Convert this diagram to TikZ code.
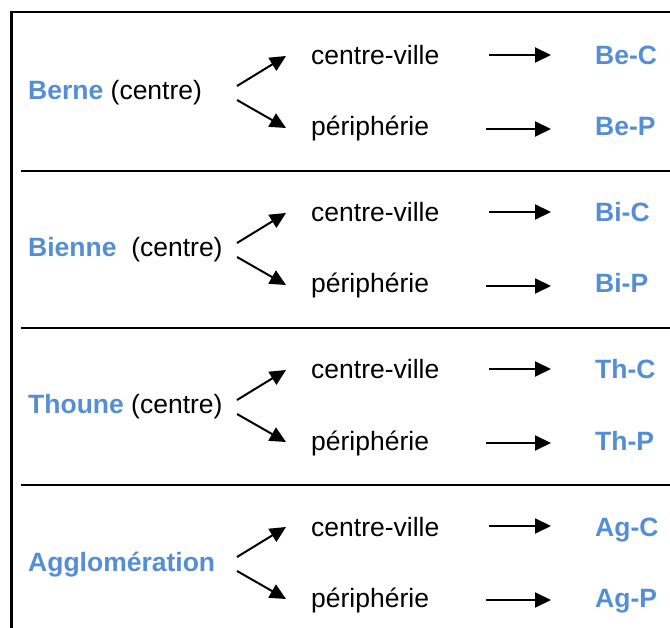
\documentclass[tikz,border=0pt]{standalone}
\usepackage{fontspec}
\setmainfont{Liberation Sans}
\usetikzlibrary{arrows.meta}
\definecolor{lblue}{RGB}{85,142,213}
\begin{document}
\begin{tikzpicture}[x=1pt,y=-1pt,
  txt/.style={anchor=base west,inner sep=0pt,font=\fontsize{26.5}{31}\selectfont},
  code/.style={anchor=base west,inner sep=0pt,text=lblue,font=\fontsize{26.5}{31}\selectfont\bfseries},
  arr/.style={line width=2pt,-{Triangle[length=16pt,width=15pt]}},
  frame/.style={line width=2.2pt},
  sep/.style={line width=1.6pt}]
\useasboundingbox (0,0) rectangle (670,628);
\clip (0,0) rectangle (670,628);
\draw[frame] (11.5,640) -- (11.5,12) -- (680,12);
\foreach \y in {171,328,485} \draw[sep] (21,\y) -- (680,\y);
\node[txt] (s1) at (28,100) {\textcolor{lblue}{\textbf{Berne}} (centre)};
\node[txt] (s2) at (28,257) {\textcolor{lblue}{\textbf{Bienne}}\ \ (centre)};
\node[txt] (s3) at (28,414) {\textcolor{lblue}{\textbf{Thoune}} (centre)};
\node[txt] (s4) at (28,571) {\textcolor{lblue}{\textbf{Agglomération}}};
\foreach \r/\ab [count=\k] in {0/Be,157/Bi,314/Th,471/Ag}{
  \node[txt] (cv\k) at (311,65+\r) {centre-ville};
  \node[txt] (pe\k) at (311,136+\r) {périphérie};
  \node[code] (cc\k) at (595,65+\r) {\ab-C};
  \node[code] (cp\k) at (595,136+\r) {\ab-P};
  \coordinate (ua\k) at (237,86+\r);
  \coordinate (ub\k) at (286,56+\r);
  \coordinate (da\k) at (237,100+\r);
  \coordinate (db\k) at (286,128+\r);
  \coordinate (ra\k) at (489,55+\r);
  \coordinate (rb\k) at (551,55+\r);
  \coordinate (qa\k) at (486,129+\r);
  \coordinate (qb\k) at (551,129+\r);
  \draw[arr] (ua\k) -- (ub\k);
  \draw[arr] (da\k) -- (db\k);
  \draw[arr] (ra\k) -- (rb\k);
  \draw[arr] (qa\k) -- (qb\k);
}
\end{tikzpicture}
\end{document}
